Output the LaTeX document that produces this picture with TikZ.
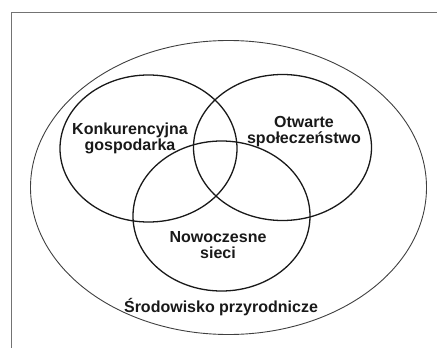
\documentclass[tikz,border=0pt]{standalone}
\usepackage{fontspec}
\setmainfont{Liberation Sans}
\usetikzlibrary{shapes.geometric}
\begin{document}
\begin{tikzpicture}[x=1pt,y=-1pt,
  venn/.style={draw=black!90,line width=1.3pt},
  outer/.style={draw=black!75,line width=0.9pt},
  frame/.style={draw=black!55,line width=0.7pt},
  lbl/.style={font=\bfseries\fontsize{16}{16}\selectfont,align=center,inner sep=0pt,text=black!90}]
\useasboundingbox (0,0) rectangle (437,348);
\coordinate (f1) at (11,348);
\coordinate (f2) at (11,12);
\coordinate (f3) at (437,12);
\draw[frame] (f1) -- (f2) -- (f3);
\node[outer,ellipse,minimum width=396pt,minimum height=294pt,inner sep=0pt] (env) at (228.5,187.5) {};
\node[venn,ellipse,minimum width=177pt,minimum height=147pt,inner sep=0pt] (k) at (148.5,148.5) {};
\node[venn,ellipse,minimum width=178pt,minimum height=146pt,inner sep=0pt] (o) at (282.5,147.5) {};
\node[venn,ellipse,minimum width=177pt,minimum height=150pt,inner sep=0pt] (n) at (221.5,216) {};
\node[lbl] (tk) at (130,138) {Konkurencyjna\\gospodarka};
\node[lbl] (to) at (304,132) {Otwarte\\społeczeństwo};
\node[lbl] (tn) at (218,245) {Nowoczesne\\sieci};
\node[lbl] (te) at (221,307) {Środowisko przyrodnicze};
\end{tikzpicture}
\end{document}
